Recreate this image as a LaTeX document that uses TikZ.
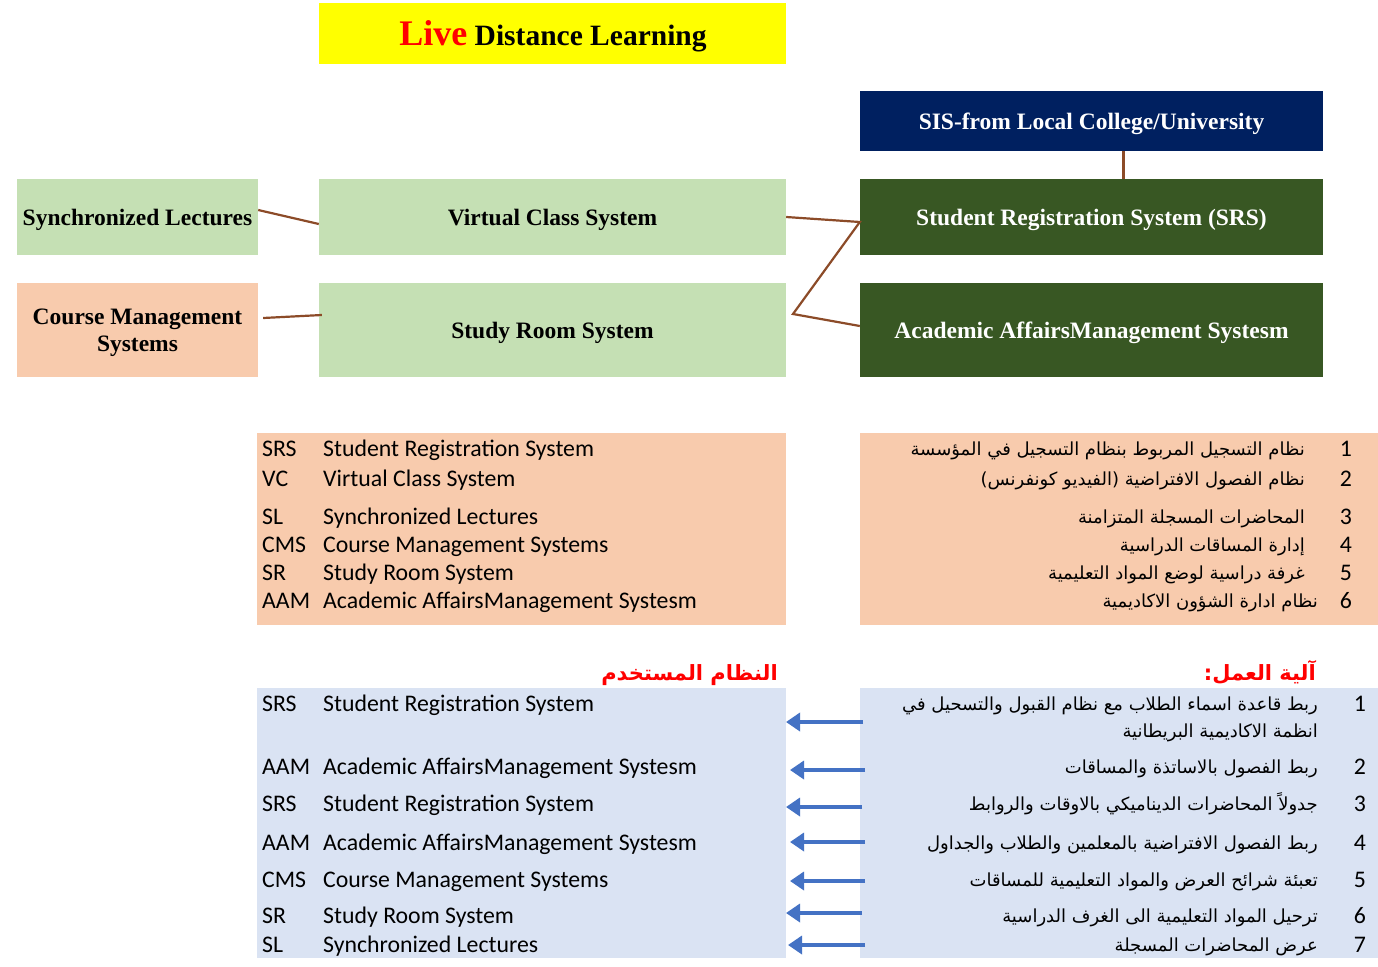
\documentclass[tikz,border=0pt]{standalone}
\usepackage{fontspec}
\setmainfont{Liberation Serif}
\newfontfamily\calib{Carlito}
\newfontfamily\arabicfont[Script=Arabic]{DejaVu Sans}
\TeXXeTstate=1
\usetikzlibrary{arrows.meta}

\definecolor{ttlyellow}{RGB}{255,255,0}
\definecolor{lgreen}{RGB}{197,224,180}
\definecolor{peach}{RGB}{248,203,173}
\definecolor{navy}{RGB}{0,32,96}
\definecolor{dkgreen}{RGB}{56,87,35}
\definecolor{lblue}{RGB}{218,227,243}
\definecolor{arrblue}{RGB}{68,114,196}
\definecolor{brown}{RGB}{140,75,40}

\newcommand{\boxfont}{\fontsize{23.5}{27}\selectfont\bfseries}
\newcommand{\tabfont}{\calib\fontsize{23.8}{26}\selectfont}
\newcommand{\arfont}{\arabicfont\fontsize{18}{22}\selectfont}

\tikzset{
  box/.style={rectangle,inner sep=0pt,font=\boxfont,align=center,text depth=0pt},
  tab/.style={rectangle,inner sep=0pt},
  tabtxt/.style={inner sep=0pt,font=\tabfont,anchor=base west},
  artxt/.style={inner sep=0pt,font=\arfont,anchor=base east},
  link/.style={draw=brown,line width=2.2pt},
  bluearrow/.style={draw=arrblue,line width=4pt,-{Triangle[length=14pt,width=18pt]}}
}

\begin{document}
\begin{tikzpicture}[x=1pt,y=-1pt]
\useasboundingbox (0,0) rectangle (1378,966);
\fill[white] (0,0) rectangle (1378,966);

% title and system boxes
\node[box,fill=ttlyellow,minimum width=467pt,minimum height=61pt] (ttl) at (552.5,33.5) {};
\node[font=\bfseries\fontsize{29.5}{30}\selectfont,inner sep=0pt,anchor=base] (ttltxt) at (553,46)
  {\textcolor{red}{\fontsize{36}{36}\selectfont Live} Distance Learning};
\node[box,fill=navy,text=white,minimum width=463pt,minimum height=60pt] (sis) at (1091.5,121) {SIS-from Local College/University};
\node[box,fill=lgreen,minimum width=241pt,minimum height=76pt] (sl) at (137.5,217) {Synchronized Lectures};
\node[box,fill=lgreen,minimum width=467pt,minimum height=76pt] (vcs) at (552.5,217) {Virtual Class System};
\node[box,fill=dkgreen,text=white,minimum width=463pt,minimum height=76pt] (srs) at (1091.5,217) {Student Registration System (SRS)};
\node[box,fill=peach,minimum width=241pt,minimum height=94pt] (cms) at (137.5,330) {Course Management\\Systems};
\node[box,fill=lgreen,minimum width=467pt,minimum height=94pt] (sr) at (552.5,330) {Study Room System};
\node[box,fill=dkgreen,text=white,minimum width=463pt,minimum height=94pt] (aam) at (1091.5,330) {Academic AffairsManagement Systesm};

% links
\coordinate (bend) at (793,314);
\draw[link] ([yshift=7pt]sl.east) -- ([yshift=-7pt]vcs.west);
\draw[link] ([xshift=5pt,yshift=12pt]cms.east) -- ([xshift=3pt,yshift=15pt]sr.west);
\draw[link] (vcs.east) -- ([yshift=-5pt]srs.west) -- (bend) -- ([yshift=4pt]aam.west);
\draw[link] ([xshift=32pt]sis.south) -- ([xshift=32pt]srs.north);

% tables
\node[tab,fill=peach,minimum width=529pt,minimum height=192pt] (abbr) at (521.5,529) {};
\node[tab,fill=peach,minimum width=518pt,minimum height=192pt] (names) at (1119,529) {};
\node[tab,fill=lblue,minimum width=529pt,minimum height=270pt] (used) at (521.5,823) {};
\node[tab,fill=lblue,minimum width=518pt,minimum height=270pt] (mech) at (1119,823) {};

\foreach \y/\ab/\nm [count=\i] in {449/SRS/Student Registration System,479/VC/Virtual Class System,
    517/SL/Synchronized Lectures,545/CMS/Course Management Systems,573/SR/Study Room System,
    601/AAM/Academic AffairsManagement Systesm}
  {\node[tabtxt] (ab\i) at (262,\y+7) {\ab};
   \node[tabtxt] (nm\i) at (323,\y+7) {\nm};}

\foreach \y/\x/\t [count=\i] in {449/1305/نظام التسجيل المربوط بنظام التسجيل في المؤسسة,
    479/1305/نظام الفصول الافتراضية (الفيديو كونفرنس),
    517/1305/المحاضرات المسجلة المتزامنة,
    545/1305/إدارة المساقات الدراسية,
    573/1305/غرفة دراسية لوضع المواد التعليمية,
    601/1318/نظام ادارة الشؤون الاكاديمية}
  {\node[tabtxt,anchor=base] (nn\i) at (1346,\y+7) {\i};
   \node[artxt] (ar\i) at (\x,\y+6) {\beginR\t\endR};}

% headings
\node[artxt,text=red,font=\arabicfont\bfseries\fontsize{21}{24}\selectfont] (usedhd) at (778,680) {\beginR النظام المستخدم\endR};
\node[artxt,text=red,font=\arabicfont\bfseries\fontsize{21}{24}\selectfont] (mechhd) at (1316,680) {\beginR آلية العمل:\endR};

\foreach \y/\ab/\nm [count=\i] in {704/SRS/Student Registration System,767/AAM/Academic AffairsManagement Systesm,
    804/SRS/Student Registration System,843/AAM/Academic AffairsManagement Systesm,
    880/CMS/Course Management Systems,916/SR/Study Room System,945/SL/Synchronized Lectures}
  {\node[tabtxt] (ub\i) at (262,\y+7) {\ab};
   \node[tabtxt] (um\i) at (323,\y+7) {\nm};}

\foreach \y/\t [count=\i] in {704/ربط قاعدة اسماء الطلاب مع نظام القبول والتسحيل في,
    767/ربط الفصول بالاساتذة والمساقات,
    804/جدولاً المحاضرات الديناميكي بالاوقات والروابط,
    843/ربط الفصول الافتراضية بالمعلمين والطلاب والجداول,
    880/تعبئة شرائح العرض والمواد التعليمية للمساقات,
    916/ترحيل المواد التعليمية الى الغرف الدراسية,
    945/عرض المحاضرات المسجلة}
  {\node[tabtxt,anchor=base] (mn\i) at (1360,\y+7) {\i};
   \node[artxt] (mt\i) at (1318,\y+6) {\beginR\t\endR};}
\node[artxt] (mt1b) at (1318,737) {\beginR انظمة الاكاديمية البريطانية\endR};

% arrows
\foreach \y/\xa/\xb [count=\i] in {722/863/786,770/865/790,807/862/786,842/865/790,
    881/865/790,913/862/786,945/865/788}
  {\coordinate (p\i) at (\xa,\y);
   \coordinate (q\i) at (\xb,\y);
   \draw[bluearrow] (p\i) -- (q\i);}
\end{tikzpicture}
\end{document}
